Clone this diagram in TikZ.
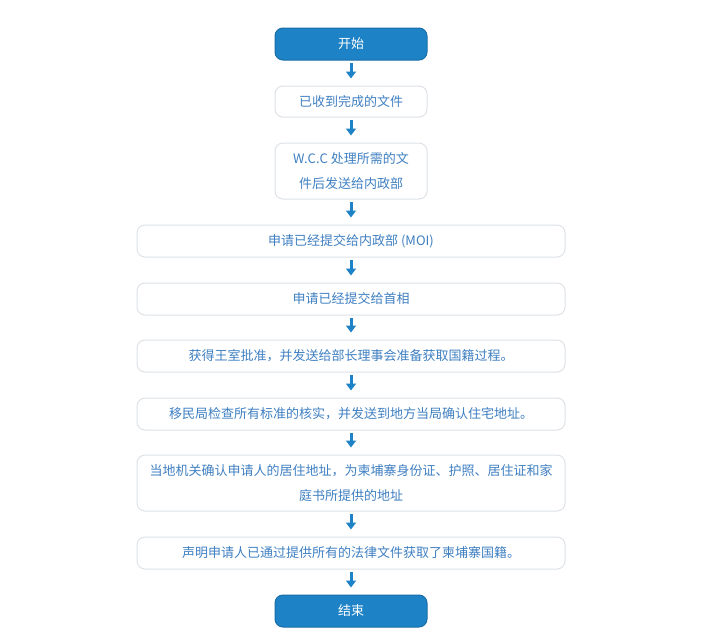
\documentclass[tikz,border=0pt]{standalone}
\usepackage{fontspec}
\usepackage{tikz}
\usetikzlibrary{arrows.meta}
\newfontfamily\cjk{Noto Sans CJK SC}
\definecolor{stepblue}{HTML}{1E82C6}
\definecolor{steptext}{HTML}{3F80C2}
\definecolor{stepline}{HTML}{DEE2E6}
\tikzset{
  stepbox/.style={rectangle,rounded corners=8pt,draw=stepline,line width=1pt,fill=white,
    text=steptext,font=\cjk\fontsize{13}{25.5}\selectfont,align=center,inner sep=0pt},
  endbox/.style={stepbox,draw=stepblue!85!black,fill=stepblue,text=white,
    minimum width=152pt,minimum height=32pt},
  narrow/.style={minimum width=152pt},
  wide/.style={minimum width=428pt},
  flow/.style={draw=stepblue,line width=3pt,-{Triangle[width=10pt,length=7pt]},
    shorten <=2.5pt,shorten >=7pt}
}
\begin{document}
\begin{tikzpicture}[x=1pt,y=-1pt]
  \useasboundingbox[fill=white] (0,0) rectangle (725,637);
      \node[endbox] (s0) at (351,44) {开始};
      \node[stepbox,narrow,minimum height=31pt] (s1) at (351,101.5) {已收到完成的文件};
      \node[stepbox,narrow,minimum height=56pt] (s2) at (351,171) {W.C.C 处理所需的文\\件后发送给内政部};
      \node[stepbox,wide,minimum height=32pt] (s3) at (351,241) {申请已经提交给内政部 (MOI)};
      \node[stepbox,wide,minimum height=32pt] (s4) at (351,299) {申请已经提交给首相};
      \node[stepbox,wide,minimum height=32pt] (s5) at (351,356) {获得王室批准，并发送给部长理事会准备获取国籍过程。};
      \node[stepbox,wide,minimum height=32pt] (s6) at (351,414) {移民局检查所有标准的核实，并发送到地方当局确认住宅地址。};
      \node[stepbox,wide,minimum height=56pt] (s7) at (351,483) {当地机关确认申请人的居住地址，为柬埔寨身份证、护照、居住证和家\\庭书所提供的地址};
      \node[stepbox,wide,minimum height=32pt] (s8) at (351,553) {声明申请人已通过提供所有的法律文件获取了柬埔寨国籍。};
      \node[endbox] (s9) at (351,611) {结束};
    \draw[flow] (s0) -- (s1);
    \draw[flow] (s1) -- (s2);
    \draw[flow] (s2) -- (s3);
    \draw[flow] (s3) -- (s4);
    \draw[flow] (s4) -- (s5);
    \draw[flow] (s5) -- (s6);
    \draw[flow] (s6) -- (s7);
    \draw[flow] (s7) -- (s8);
    \draw[flow] (s8) -- (s9);
\end{tikzpicture}
\end{document}
